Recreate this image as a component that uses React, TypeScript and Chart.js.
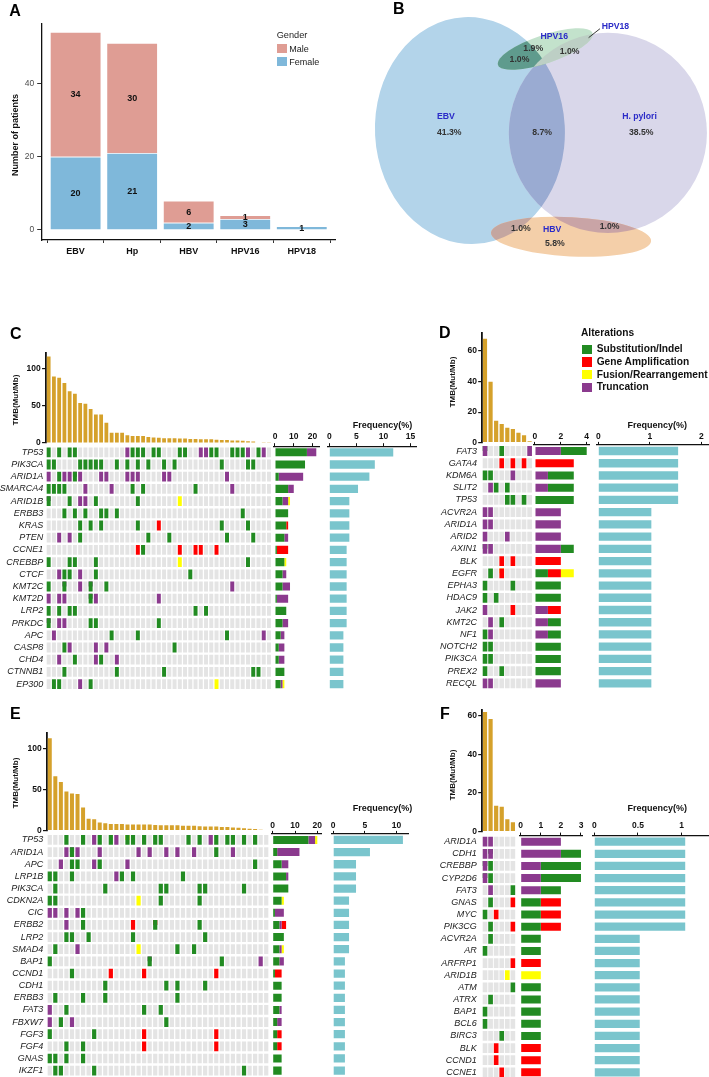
import React, { useEffect, useRef } from "react";
import { Chart, registerables } from "chart.js";

Chart.register(...registerables);

const FONT = "'Liberation Sans', Arial, Helvetica, sans-serif";
Chart.defaults.font.family = FONT;

/* ================= Panel A : patients by infection & gender ================= */
const A_CATEGORIES = ["EBV", "Hp", "HBV", "HPV16", "HPV18"];
const A_FEMALE = [20, 21, 2, 3, 1];
const A_MALE = [34, 30, 6, 1, 0];
const A_Y_TICKS = [0, 20, 40];

/* ================= Panel B : Venn diagram (diagram units) ================= */
const B_SETS = ["EBV", "H. pylori", "HPV16", "HBV"];
const B_CX = [30.5, 70.6, 52.4, 59.9];
const B_CY = [36.5, 37.2, 12.8, 67.4];
const B_RX = [27.6, 28.8, 14.5, 23.3];
const B_RY = [33.0, 29.1, 4.1, 5.7];
const B_ROT = [-3, 0, -18.6, 3];
const B_NAME_TEXT = ["EBV", "H. pylori", "HPV16", "HBV", "HPV18"];
const B_NAME_X = [23.5, 79.8, 55.0, 54.4, 72.8];
const B_NAME_Y = [32.4, 32.5, 9.2, 65.4, 6.2];
const B_PCT_TEXT = ["41.3%", "8.7%", "38.5%", "1.9%", "1.0%", "1.0%", "1.0%", "5.8%", "1.0%"];
const B_PCT_X = [24.5, 51.5, 80.3, 48.9, 44.9, 59.5, 45.3, 55.2, 71.1];
const B_PCT_Y = [37.1, 37.1, 37.1, 12.6, 15.8, 13.6, 64.9, 69.4, 64.4];
const B_POINTER_X = [68.3, 65.0];
const B_POINTER_Y = [6.9, 9.5];

/* ================= Oncoprint panels ================= */
// cell codes: . none, S substitution/indel, A amplification, F fusion, T truncation
// split cells (top/bottom): a=T/S, b=A/S, c=F/S, d=S/T, e=F/A
const C_GENES = ["TP53", "PIK3CA", "ARID1A", "SMARCA4", "ARID1B", "ERBB3", "KRAS", "PTEN", "CCNE1", "CREBBP", "CTCF", "KMT2C", "KMT2D", "LRP2", "PRKDC", "APC", "CASP8", "CHD4", "CTNNB1", "EP300"];
const C_ROWS = [
  "S.S.SS.... .....TSSS. SS...SS..T TSS..SSST. ST.",
  "SS....SSSS S..S.S.S.S ..S.S..... ...S....SS ...",
  "T.STTaT... TT...TTT.. ..TT...... ....T..... ...",
  "SSSS...T.. ..T...S.S. ........S. .....T.... ...",
  "a...S.TT.S .......S.. .....F.... .......... ...",
  "...S.S.S.. SS.S...... .......... .......S.. ...",
  "......S.S. S......S.. .A........ ...S....S. ...",
  "..T.T.S... .........S ...S...... ....S....S ...",
  ".......... .......Ab. .....A..AA ..A....... ...",
  "S...SS...S .......... .....F.... ........S. ...",
  "..TSS.T..S .......... .......S.. .......... ...",
  "S..a..T.a. .S........ .......... .....T.... ...",
  "T.TT....aT .......... .T........ .......... ...",
  "S.S.SS.... .......... ........S. S......... ...",
  "a.TT....SS .......... .S........ .......... ...",
  ".T........ ..S....S.. .......... ....S..... .T.",
  "...ST....T .T........ ....S..... .......... ...",
  "..T..S...T S..T...... .......... .......... ...",
  "...S...... ...S...... ..S....... .........S S..",
  ".SS...T.S. .......... .......... ..F....... ...",
];
const C_TMB = [117, 90, 88, 81, 70, 66.5, 54, 53, 46, 38.5, 38.5, 27.5, 14, 14, 14, 10.5, 9.5, 9.5, 9.5, 8, 7.5, 7, 6.5, 6.5, 6.5, 6, 6, 5.5, 5.5, 5, 5, 5, 4.5, 4, 4, 3.5, 3.5, 3, 2.5, 2, 0.7, 0.5, 0.5];
const C_FREQ = [11.8, 8.4, 7.4, 5.3, 3.7, 3.7, 3.7, 3.7, 3.2, 3.2, 3.2, 3.2, 3.2, 3.2, 3.2, 2.6, 2.6, 2.6, 2.6, 2.6];
const C_TMB_TICKS = [0, 50, 100];
const C_STACK_TICKS = [0, 10, 20];
const C_FREQ_TICKS = [0, 5, 10, 15];

const D_GENES = ["FAT3", "GATA4", "KDM6A", "SLIT2", "TP53", "ACVR2A", "ARID1A", "ARID2", "AXIN1", "BLK", "EGFR", "EPHA3", "HDAC9", "JAK2", "KMT2C", "NF1", "NOTCH2", "PIK3CA", "PREX2", "RECQL"];
const D_ROWS = [
  "d..S....T", "...A.A.A.", "SS...T...", ".TS.S....", "....SS.S.",
  "TT.......", "TT.......", "T...T....", "dT.......", "...A.A...",
  ".S.e.....", "S....S...", "S.S......", "T....A...", ".T.S.....",
  "ST.......", "SS.......", "SS.......", "S..S.....", "TT.......",
];
const D_TMB = [68, 39.8, 14.3, 12.2, 9.8, 8.9, 6.5, 4.8, 0.9];
const D_FREQ = [1.55, 1.55, 1.55, 1.55, 1.55, 1.03, 1.03, 1.03, 1.03, 1.03, 1.03, 1.03, 1.03, 1.03, 1.03, 1.03, 1.03, 1.03, 1.03, 1.03];
const D_TMB_TICKS = [0, 20, 40, 60];
const D_STACK_TICKS = [0, 2, 4];
const D_FREQ_TICKS = [0, 1, 2];

const E_GENES = ["TP53", "ARID1A", "APC", "LRP1B", "PIK3CA", "CDKN2A", "CIC", "ERBB2", "LRP2", "SMAD4", "BAP1", "CCND1", "CDH1", "ERBB3", "FAT3", "FBXW7", "FGF3", "FGF4", "GNAS", "IKZF1"];
const E_ROWS = [
  "...S..S.TS .ST.cS.S.S S....S.S.T S.SS.S.S..",
  "...TaT...T ......T.T. .T.T..T... S..T......",
  "..T.SS..TS ....T..... .......... .......S..",
  "SS..S..... ..TS.S.... ....S..... ..........",
  ".S........ S......... SS.....SS. .....S....",
  "SS........ ......F... S......S.. ..........",
  "TT.T.TS... .......... .......... ..........",
  "...T..S... .....A...b .......S.. ..........",
  "...SS..S.. .....S.... ........S. ..........",
  ".S...T.... ......F... ...S..S... ..........",
  "S......... ........a. .......... .S......T.",
  "....S..... .A.....A.. .......... A.........",
  ".......... S......... .S.S....S. ..........",
  ".S....S... S......... ...S...... ..........",
  "T..S...... .......S.. S......... ..........",
  "T.S.T..... .......... .S........ ..........",
  "S.......S. .......A.. .......... A.........",
  "...S..S... .......A.. .......... A.........",
  "SS.S..S... .......... .......... ..........",
  ".SS.....S. .......... .......... .....S....",
];
const E_TMB = [112, 66, 59, 47.5, 45, 44.5, 28, 14.5, 14, 10, 9, 8, 8, 8, 7.5, 7.5, 7.5, 7.5, 7.5, 7, 6.5, 6.5, 6.5, 6.5, 6, 6, 6, 5.5, 5, 5, 5, 4.5, 4.5, 4, 3.5, 3, 2.5, 2, 1, 0.8];
const E_FREQ = [11.0, 5.8, 3.6, 3.6, 3.6, 2.5, 2.5, 2.5, 2.5, 2.5, 1.85, 1.85, 1.85, 1.85, 1.85, 1.85, 1.85, 1.85, 1.85, 1.85];
const E_TMB_TICKS = [0, 50, 100];
const E_STACK_TICKS = [0, 10, 20];
const E_FREQ_TICKS = [0, 5, 10];

const F_GENES = ["ARID1A", "CDH1", "CREBBP", "CYP2D6", "FAT3", "GNAS", "MYC", "PIK3CG", "ACVR2A", "AR", "ARFRP1", "ARID1B", "ATM", "ATRX", "BAP1", "BCL6", "BIRC3", "BLK", "CCND1", "CCNE1"];
const F_ROWS = [
  "TT....", "Td....", "dS....", "dS....", ".T...S", ".S...A", "S.A...", ".S...A", ".S....", "S.....",
  ".....A", "....F.", ".....S", ".S....", "S.....", "S.....", "...S..", "..A...", "..A...", "...A..",
];
const F_TMB = [62, 58.3, 13.4, 12.8, 6.4, 4.8];
const F_FREQ = [1.04, 1.04, 1.04, 1.04, 1.04, 1.04, 1.04, 1.04, 0.52, 0.52, 0.52, 0.52, 0.52, 0.52, 0.52, 0.52, 0.52, 0.52, 0.52, 0.52];
const F_TMB_TICKS = [0, 20, 40, 60];
const F_STACK_TICKS = [0, 1, 2, 3];
const F_FREQ_TICKS = [0, 0.5, 1];

/* ================= styles ================= */
const ALT_COLORS: Record<string, string> = { S: "#228B22", A: "#FF0000", F: "#FFFF00", T: "#8B3A8E" };
const ALT_LABELS: Record<string, string> = { S: "Substitution/Indel", A: "Gene Amplification", F: "Fusion/Rearrangement", T: "Truncation" };
const LEGEND_ORDER = ["S", "A", "F", "T"];
const SPLIT: Record<string, string[]> = { a: ["T", "S"], b: ["A", "S"], c: ["F", "S"], d: ["S", "T"], e: ["F", "A"] };
const CELL_GREY = "#E4E4E4";
const TMB_COLOR = "#D5A12B";
const FREQ_COLOR = "#7AC5CD";
const MALE_COLOR = "#DF9D94";
const FEMALE_COLOR = "#7FB8DA";
const B_FILL = ["#B3D4EA", "#D9D7EA", "#C3E2CC", "#F4CFA9"];
const B_DRAW: (number | [number, number, string])[] = [
  0, 1, [0, 1, "#9AABD2"],
  2, [2, 0, "#5F9B8D"], [2, 1, "#BDCFC5"],
  3, [3, 0, "#C4A6A0"], [3, 1, "#C9A4A6"],
];

const AXIS = 50; // reserved size of every visible axis box
const MARGIN = 56; // canvas margin around a chart area

const cellsOf = (row: string) => row.replace(/ /g, "").split("");
const typesOf = (c: string) => (SPLIT[c] ? SPLIT[c] : c === "." ? [] : [c]);
const fitAxis = (s: any) => {
  if (s.isHorizontal()) s.height = AXIS;
  else s.width = AXIS;
};
const fixedTicks = (vals: number[]) => (s: any) => {
  s.ticks = vals.map((v) => ({ value: v }));
};
const BOLD_TICK = { size: 8.5, weight: "bold" as const };

/* ================= chart builders ================= */
const barValueLabels = {
  id: "barValueLabels",
  afterDatasetsDraw(chart: any) {
    const ctx = chart.ctx;
    ctx.save();
    ctx.font = `bold 9px ${FONT}`;
    ctx.fillStyle = "#111";
    ctx.textAlign = "center";
    ctx.textBaseline = "middle";
    chart.data.datasets.forEach((ds: any, di: number) => {
      const meta = chart.getDatasetMeta(di);
      meta.data.forEach((el: any, i: number) => {
        const v = ds.data[i].y;
        if (!v) return;
        const p = el.getProps(["x", "y", "base"], true);
        ctx.fillText(String(v), p.x, (p.y + p.base) / 2 + 0.5);
      });
    });
    ctx.restore();
  },
};

function buildA() {
  return {
    sides: ["left", "bottom"],
    type: "bar",
    data: {
      datasets: [
        { label: "Female", data: A_FEMALE.map((v, i) => ({ x: i, y: v })), backgroundColor: FEMALE_COLOR },
        { label: "Male", data: A_MALE.map((v, i) => ({ x: i, y: v })), backgroundColor: MALE_COLOR },
      ],
    },
    options: {
      datasets: { bar: { barPercentage: 0.91, categoryPercentage: 1, borderColor: "rgba(255,255,255,0.9)", borderWidth: 0.8 } },
      scales: {
        x: {
          type: "linear", stacked: true, offset: false, min: -0.6, max: 4.6,
          afterBuildTicks: fixedTicks(A_CATEGORIES.map((_, i) => i)), afterFit: fitAxis,
          border: { display: true, color: "#111", width: 1.3 },
          grid: { display: true, drawOnChartArea: false, tickLength: 3, color: "#333" },
          ticks: { padding: 3.3, maxRotation: 0, minRotation: 0, autoSkip: false, font: { size: 9, weight: "bold" }, color: "#111", callback: (v: number) => A_CATEGORIES[v] },
        },
        y: {
          type: "linear", stacked: true, min: -2.74, max: 56.2,
          afterBuildTicks: fixedTicks(A_Y_TICKS), afterFit: fitAxis,
          border: { display: true, color: "#111", width: 1.3 },
          grid: { display: true, drawOnChartArea: false, tickLength: 4.5, color: "#333" },
          ticks: { padding: 3, font: { size: 8.5 }, color: "#4d4d4d", callback: (v: number) => String(v) },
        },
      },
    },
    plugins: [barValueLabels],
  };
}

const vennPlugin = {
  id: "venn",
  afterDatasetsDraw(chart: any) {
    const ctx = chart.ctx;
    const xs = chart.scales.x;
    const ys = chart.scales.y;
    const path = (i: number) => {
      const cx = xs.getPixelForValue(B_CX[i]);
      const cy = ys.getPixelForValue(B_CY[i]);
      const rx = Math.abs(xs.getPixelForValue(B_RX[i]) - xs.getPixelForValue(0));
      const ry = Math.abs(ys.getPixelForValue(B_RY[i]) - ys.getPixelForValue(0));
      ctx.beginPath();
      ctx.ellipse(cx, cy, rx, ry, (B_ROT[i] * Math.PI) / 180, 0, Math.PI * 2);
    };
    ctx.save();
    B_DRAW.forEach((step) => {
      if (typeof step === "number") {
        path(step);
        ctx.fillStyle = B_FILL[step];
        ctx.fill();
      } else {
        ctx.save();
        path(step[1]);
        ctx.clip();
        path(step[0]);
        ctx.fillStyle = step[2];
        ctx.fill();
        ctx.restore();
      }
    });
    ctx.strokeStyle = "#222";
    ctx.lineWidth = 0.9;
    ctx.beginPath();
    ctx.moveTo(xs.getPixelForValue(B_POINTER_X[0]), ys.getPixelForValue(B_POINTER_Y[0]));
    ctx.lineTo(xs.getPixelForValue(B_POINTER_X[1]), ys.getPixelForValue(B_POINTER_Y[1]));
    ctx.stroke();
    ctx.textAlign = "center";
    ctx.textBaseline = "middle";
    ctx.font = `bold 8.7px ${FONT}`;
    ctx.fillStyle = "#2B2BC8";
    B_NAME_TEXT.forEach((t, i) => ctx.fillText(t, xs.getPixelForValue(B_NAME_X[i]), ys.getPixelForValue(B_NAME_Y[i])));
    ctx.fillStyle = "#333";
    B_PCT_TEXT.forEach((t, i) => ctx.fillText(t, xs.getPixelForValue(B_PCT_X[i]), ys.getPixelForValue(B_PCT_Y[i])));
    ctx.restore();
  },
};

function buildB() {
  return {
    sides: [],
    type: "scatter",
    data: { datasets: [{ label: B_SETS.join(","), data: B_CX.map((x, i) => ({ x, y: B_CY[i] })), pointRadius: 0 }] },
    options: {
      scales: {
        x: { type: "linear", min: 0, max: 100, display: false },
        y: { type: "linear", min: 0, max: 75.6, reverse: true, display: false },
      },
    },
    plugins: [vennPlugin],
  };
}

function buildTmb(p: any) {
  return () => ({
    sides: ["left"],
    type: "bar",
    data: {
      labels: p.tmb.map((_: number, i: number) => `S${i + 1}`),
      datasets: [{ data: p.tmb, backgroundColor: TMB_COLOR, barPercentage: p.geo.tmbBar, categoryPercentage: 1 }],
    },
    options: {
      scales: {
        x: { display: false },
        y: {
          type: "linear", min: 0, max: p.tmbMax,
          afterBuildTicks: fixedTicks(p.tmbTicks), afterFit: fitAxis,
          border: { display: true, color: "#111", width: 1.8 },
          grid: { display: true, drawOnChartArea: false, tickLength: 4, color: "#111", lineWidth: 1.2 },
          ticks: { padding: 1.3, font: BOLD_TICK, color: "#111", callback: (v: number) => String(v) },
        },
      },
    },
  });
}

function buildGrid(p: any) {
  return () => {
    const n = cellsOf(p.rows[0]).length;
    const datasets: any[] = [];
    p.rows.forEach((row: string, g: number) => {
      const cells = cellsOf(row);
      datasets.push({
        data: cells.map(() => [g - 0.4, g + 0.4]),
        backgroundColor: cells.map((c) => (c === "." ? CELL_GREY : ALT_COLORS[SPLIT[c] ? SPLIT[c][1] : c])),
      });
      if (cells.some((c) => SPLIT[c])) {
        datasets.push({
          data: cells.map((c) => (SPLIT[c] ? [g - 0.4, g] : null)),
          backgroundColor: cells.map((c) => (SPLIT[c] ? ALT_COLORS[SPLIT[c][0]] : CELL_GREY)),
        });
      }
    });
    return {
      sides: ["left"],
      type: "bar",
      data: { labels: Array.from({ length: n }, (_, i) => `S${i + 1}`), datasets },
      options: {
        datasets: { bar: { grouped: false, barPercentage: p.geo.cellW, categoryPercentage: 1, borderWidth: 0 } },
        scales: {
          x: { display: false },
          y: {
            type: "linear", reverse: true, min: -0.5, max: p.genes.length - 0.5,
            afterBuildTicks: fixedTicks(p.genes.map((_: string, i: number) => i)), afterFit: fitAxis,
            border: { display: false },
            grid: { display: false, drawTicks: false },
            ticks: { autoSkip: false, padding: p.geo.labelPad, font: { size: 9, style: "italic" }, color: "#1a1a1a", callback: (v: number) => p.genes[v] ?? "" },
          },
        },
      },
    };
  };
}

function topAxis(min: number, max: number, ticks: number[], pad: number) {
  return {
    type: "linear", position: "top", min, max, offset: false,
    afterBuildTicks: fixedTicks(ticks), afterFit: fitAxis,
    border: { display: true, color: "#111", width: 1.3 },
    grid: { display: true, drawOnChartArea: false, tickLength: 3, color: "#111", lineWidth: 1 },
    ticks: { padding: pad, maxRotation: 0, minRotation: 0, autoSkip: false, font: BOLD_TICK, color: "#111", callback: (v: number) => String(v) },
  };
}

function buildStack(p: any) {
  return () => {
    const count = (t: string) => p.rows.map((r: string) => cellsOf(r).reduce((s, c) => s + (typesOf(c).includes(t) ? 1 : 0), 0));
    return {
      sides: ["top"],
      type: "bar",
      data: {
        labels: p.genes,
        datasets: p.order.map((t: string) => ({ label: ALT_LABELS[t], data: count(t), backgroundColor: ALT_COLORS[t] })),
      },
      options: {
        indexAxis: "y",
        datasets: { bar: { barPercentage: 0.66, categoryPercentage: 1, borderWidth: 0 } },
        scales: {
          x: { ...topAxis(p.stackRange[0], p.stackRange[1], p.stackTicks, p.geo.axisPad), stacked: true },
          y: { type: "category", stacked: true, display: false },
        },
      },
    };
  };
}

function buildFreq(p: any) {
  return () => ({
    sides: ["top"],
    type: "bar",
    data: { labels: p.genes, datasets: [{ label: "Frequency(%)", data: p.freq, backgroundColor: FREQ_COLOR }] },
    options: {
      indexAxis: "y",
      datasets: { bar: { barPercentage: 0.68, categoryPercentage: 1, borderWidth: 0 } },
      scales: {
        x: topAxis(p.freqRange[0], p.freqRange[1], p.freqTicks, p.geo.axisPad),
        y: { type: "category", display: false },
      },
    },
  });
}

/* ================= panel specs (layout kept separate from data) ================= */
const PANELS = [
  {
    letter: "C", genes: C_GENES, rows: C_ROWS, tmb: C_TMB, freq: C_FREQ, order: ["S", "T", "A", "F"],
    tmbMax: 121.6, tmbTicks: C_TMB_TICKS, stackRange: [-0.9, 23.6], stackTicks: C_STACK_TICKS, freqRange: [-0.37, 16], freqTicks: C_FREQ_TICKS,
    geo: { l: 46.05, r: 271.6, tmbTop: 353, tmbBottom: 443, gridTop: 446.2, gridBottom: 690.2, stackL: 273.3, stackR: 319.3, freqL: 327.3, freqR: 416,
      labelPad: 2.8, cellW: 0.76, tmbBar: 0.72, axisPad: 1.4, letter: [10, 333.5], yTitle: [16, 400], freqTitle: [382.5, 425] },
  },
  {
    letter: "D", genes: D_GENES, rows: D_ROWS, tmb: D_TMB, freq: D_FREQ, order: ["T", "S", "A", "F"],
    tmbMax: 71.7, tmbTicks: D_TMB_TICKS, stackRange: [-0.13, 4.2], stackTicks: D_STACK_TICKS, freqRange: [-0.025, 2.13], freqTicks: D_FREQ_TICKS,
    geo: { l: 482.2, r: 532.4, tmbTop: 333, tmbBottom: 442.7, gridTop: 444.9, gridBottom: 689.5, stackL: 533.3, stackR: 589.3, freqL: 597, freqR: 708,
      labelPad: 5.2, cellW: 0.84, tmbBar: 0.75, axisPad: 0.4, letter: [439, 332.5], yTitle: [453.3, 381.7], freqTitle: [657.3, 425] },
  },
  {
    letter: "E", genes: E_GENES, rows: E_ROWS, tmb: E_TMB, freq: E_FREQ, order: ["S", "T", "A", "F"],
    tmbMax: 118, tmbTicks: E_TMB_TICKS, stackRange: [-0.45, 21.97], stackTicks: E_STACK_TICKS, freqRange: [-0.3, 11.8], freqTicks: E_FREQ_TICKS,
    geo: { l: 47.0, r: 269.0, tmbTop: 733.3, tmbBottom: 830.7, gridTop: 833.9, gridBottom: 1076.7, stackL: 271.7, stackR: 321.7, freqL: 331.3, freqR: 408,
      labelPad: 3.7, cellW: 0.76, tmbBar: 0.72, axisPad: 0.4, letter: [10, 714], yTitle: [16, 783], freqTitle: [382.5, 808.3] },
  },
  {
    letter: "F", genes: F_GENES, rows: F_ROWS, tmb: F_TMB, freq: F_FREQ, order: ["T", "S", "A", "F"],
    tmbMax: 63, tmbTicks: F_TMB_TICKS, stackRange: [-0.035, 3.085], stackTicks: F_STACK_TICKS, freqRange: [-0.018, 1.312], freqTicks: F_FREQ_TICKS,
    geo: { l: 482.2, r: 515.7, tmbTop: 710, tmbBottom: 831.5, gridTop: 835.6, gridBottom: 1078.4, stackL: 520, stackR: 582.7, freqL: 592.7, freqR: 709,
      labelPad: 5.5, cellW: 0.84, tmbBar: 0.75, axisPad: 2.3, letter: [440, 714.3], yTitle: [453, 775], freqTitle: [657.3, 807.7] },
  },
];

/* ================= components ================= */
type Area = { l: number; t: number; r: number; b: number };

function ChartBox({ area, build }: { area: Area; build: () => any }) {
  const ref = useRef<HTMLCanvasElement | null>(null);
  const left = Math.floor(area.l) - MARGIN;
  const top = Math.floor(area.t) - MARGIN;
  const width = Math.ceil(area.r) + MARGIN - left;
  const height = Math.ceil(area.b) + MARGIN - top;
  useEffect(() => {
    if (!ref.current) return;
    const cfg = build();
    const sides: string[] = cfg.sides || [];
    delete cfg.sides;
    const padding: any = { left: area.l - left, top: area.t - top, right: left + width - area.r, bottom: top + height - area.b };
    sides.forEach((s) => {
      padding[s] -= AXIS;
    });
    cfg.options = cfg.options || {};
    cfg.options.responsive = false;
    cfg.options.animation = false;
    cfg.options.events = [];
    cfg.options.layout = { padding };
    cfg.options.plugins = { legend: { display: false }, tooltip: { enabled: false }, ...(cfg.options.plugins || {}) };
    const chart = new Chart(ref.current, cfg);
    return () => chart.destroy();
  }, []);
  return <canvas ref={ref} width={width} height={height} style={{ position: "absolute", left, top, width, height }} />;
}

function Txt(props: { x: number; y: number; children: any; size?: number; weight?: string; italic?: boolean; color?: string; anchor?: "left" | "center"; rotate?: boolean }) {
  const { x, y, children, size = 9, weight = "normal", italic = false, color = "#111", anchor = "center", rotate = false } = props;
  return (
    <div
      style={{
        position: "absolute", left: x, top: y, fontFamily: FONT, fontSize: size, fontWeight: weight as any,
        fontStyle: italic ? "italic" : "normal", color, lineHeight: 1, whiteSpace: "nowrap",
        transform: `translate(${anchor === "left" ? "0" : "-50%"}, -50%)${rotate ? " rotate(-90deg)" : ""}`,
      }}
    >
      {children}
    </div>
  );
}

function Swatch({ x, y, color }: { x: number; y: number; color: string }) {
  return <div style={{ position: "absolute", left: x, top: y, width: 10, height: 9.3, background: color }} />;
}

function OncoPanel({ p }: { p: any }) {
  const g = p.geo;
  return (
    <>
      <ChartBox area={{ l: g.l, t: g.tmbTop, r: g.r, b: g.tmbBottom }} build={buildTmb(p)} />
      <ChartBox area={{ l: g.l, t: g.gridTop, r: g.r, b: g.gridBottom }} build={buildGrid(p)} />
      <ChartBox area={{ l: g.stackL, t: g.gridTop, r: g.stackR, b: g.gridBottom }} build={buildStack(p)} />
      <ChartBox area={{ l: g.freqL, t: g.gridTop, r: g.freqR, b: g.gridBottom }} build={buildFreq(p)} />
      <Txt x={g.letter[0]} y={g.letter[1]} size={16} weight="bold" anchor="left" color="#000">{p.letter}</Txt>
      <Txt x={g.yTitle[0]} y={g.yTitle[1]} size={8} weight="bold" rotate>TMB(Mut/Mb)</Txt>
      <Txt x={g.freqTitle[0]} y={g.freqTitle[1]} size={9} weight="bold">Frequency(%)</Txt>
    </>
  );
}

export default function App() {
  return (
    <div style={{ position: "absolute", left: 0, top: 0, width: 709, height: 1077, overflow: "hidden", background: "#fff" }}>
      {/* Panel A */}
      <ChartBox area={{ l: 41.7, t: 24, r: 335.7, b: 240 }} build={buildA} />
      <Txt x={9.3} y={10.5} size={16} weight="bold" anchor="left" color="#000">A</Txt>
      <Txt x={15} y={135} size={9} weight="bold" rotate>Number of patients</Txt>
      <Txt x={276.7} y={36.3} size={9.2} anchor="left" color="#222">Gender</Txt>
      <Swatch x={276.7} y={44} color={MALE_COLOR} />
      <Txt x={289.3} y={49} size={9} anchor="left" color="#222">Male</Txt>
      <Swatch x={276.7} y={56.7} color={FEMALE_COLOR} />
      <Txt x={289.3} y={61.5} size={9} anchor="left" color="#222">Female</Txt>

      {/* Panel B */}
      <ChartBox area={{ l: 365, t: 5, r: 709, b: 265 }} build={buildB} />
      <Txt x={393} y={9.2} size={16} weight="bold" anchor="left" color="#000">B</Txt>

      {/* Panels C-F */}
      {PANELS.map((p) => (
        <OncoPanel key={p.letter} p={p} />
      ))}

      {/* Alterations legend (panel D) */}
      <Txt x={581} y={333.3} size={10.2} weight="bold" anchor="left">Alterations</Txt>
      {LEGEND_ORDER.map((t, i) => (
        <React.Fragment key={t}>
          <Swatch x={581.7} y={349.3 + i * 12.67 - 4.65} color={ALT_COLORS[t]} />
          <Txt x={596.7} y={349.3 + i * 12.67} size={10.2} weight="bold" anchor="left">{ALT_LABELS[t]}</Txt>
        </React.Fragment>
      ))}
    </div>
  );
}
